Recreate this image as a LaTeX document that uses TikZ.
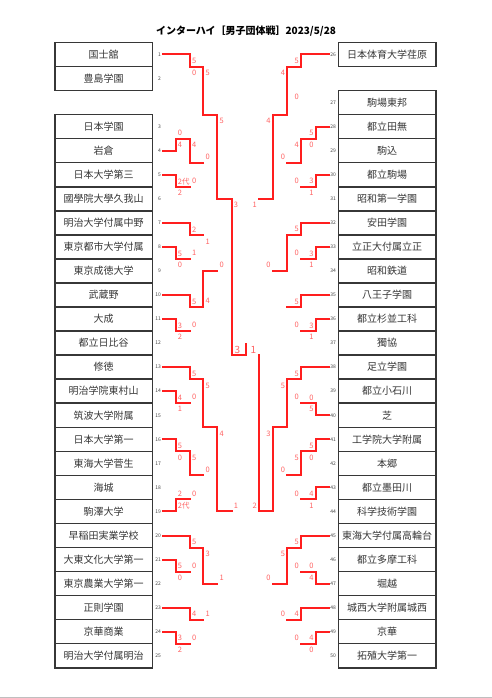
\documentclass[tikz,border=0pt]{standalone}
\usepackage{fontspec}
\setmainfont{Noto Sans CJK JP}
\pgfdeclarelayer{glay}
\pgfsetlayers{glay,main}
\definecolor{bred}{RGB}{255,30,30}
\definecolor{bgray}{RGB}{70,70,70}
\definecolor{lpink}{RGB}{255,100,100}
\definecolor{boxc}{RGB}{55,55,55}
\definecolor{txtc}{RGB}{55,55,55}
\tikzset{
 win/.style={draw=bred,line width=2pt,line cap=rect},
 lose/.style={draw=bgray,line width=1.5pt,line cap=rect},
 lab/.style={text=lpink,font=\fontsize{7.5}{7.5}\selectfont,inner sep=0pt},
 biglab/.style={text=lpink,font=\fontsize{10}{10}\selectfont,inner sep=0pt},
 team/.style={draw=boxc,line width=1.5pt,minimum width=97.5pt,minimum height=24.05pt,inner sep=0pt,text=txtc,font=\fontsize{10}{10}\selectfont},
 seedL/.style={anchor=east,inner sep=0pt,text=bgray,font=\fontsize{5}{5}\selectfont},
 seedR/.style={anchor=west,inner sep=0pt,text=bgray,font=\fontsize{5}{5}\selectfont},
}
% left match: xv, up, low, out, xout, winner(1 up / 2 low), label up, label low, name
\newcommand\LM[9]{%
 \begin{pgfonlayer}{glay}%
 \ifnum#6=1\relax \draw[lose] (#1,#4)--(#1,#3);\else \draw[lose] (#1,#2)--(#1,#4);\fi
 \end{pgfonlayer}%
 \ifnum#6=1\relax \draw[win] (#1,#2)--(#1,#4)--(#5,#4);\else \draw[win] (#1,#3)--(#1,#4)--(#5,#4);\fi
 \node[lab,anchor=west] (#9u) at (#1+2,#2+0.27) {#7};
 \node[lab,anchor=west] (#9l) at (#1+2,#3-0.25) {#8};
}
\newcommand\RM[9]{%
 \begin{pgfonlayer}{glay}%
 \ifnum#6=1\relax \draw[lose] (#1,#4)--(#1,#3);\else \draw[lose] (#1,#2)--(#1,#4);\fi
 \end{pgfonlayer}%
 \ifnum#6=1\relax \draw[win] (#1,#2)--(#1,#4)--(#5,#4);\else \draw[win] (#1,#3)--(#1,#4)--(#5,#4);\fi
 \node[lab,anchor=east] (#9u) at (#1-2,#2+0.27) {#7};
 \node[lab,anchor=east] (#9l) at (#1-2,#3-0.25) {#8};
}
\begin{document}
\begin{tikzpicture}[x=1pt,y=-1pt]
\useasboundingbox (0,0) rectangle (492,698);
\fill[white] (0,0) rectangle (492,698);
\node[font=\bfseries\fontsize{10}{10}\selectfont,text=black] (title) at (246,31.5) {インターハイ［男子団体戦］2023/5/28};
\draw[black!25,line width=1pt] (0,697.2)--(492,697.2);
\begin{scope}[yshift=-54.5pt,y=-24.05pt]
% teams left
\foreach \n/\s/\t in {1/0/国士舘,2/1/豊島学園,3/3/日本学園,4/4/岩倉,5/5/日本大学第三,6/6/國學院大學久我山,7/7/明治大学付属中野,8/8/東京都市大学付属,9/9/東京成徳大学,10/10/武蔵野,11/11/大成,12/12/都立日比谷,13/13/修徳,14/14/明治学院東村山,15/15/筑波大学附属,16/16/日本大学第一,17/17/東海大学菅生,18/18/海城,19/19/駒澤大学,20/20/早稲田実業学校,21/21/大東文化大学第一,22/22/東京農業大学第一,23/23/正則学園,24/24/京華商業,25/25/明治大学付属明治}{
 \node[team] (t\n) at (103.5,\s) {\t};
 \node[seedL] (n\n) at (161,\s) {\n};
}
% teams right
\foreach \n/\s/\t in {26/0/日本体育大学荏原,27/2/駒場東邦,28/3/都立田無,29/4/駒込,30/5/都立駒場,31/6/昭和第一学園,32/7/安田学園,33/8/立正大付属立正,34/9/昭和鉄道,35/10/八王子学園,36/11/都立杉並工科,37/12/獨協,38/13/足立学園,39/14/都立小石川,40/15/芝,41/16/工学院大学附属,42/17/本郷,43/18/都立墨田川,44/19/科学技術学園,45/20/東海大学付属高輪台,46/21/都立多摩工科,47/22/堀越,48/23/城西大学附属城西,49/24/京華,50/25/拓殖大学第一}{
 \node[team] (t\n) at (387.2,\s) {\t};
 \node[seedR] (n\n) at (330.2,\s) {\n};
}
% seed lines
\begin{pgfonlayer}{glay}
\foreach \u/\e in {1/190,3/175.7,6/175.7,9/175.7,12/175.7,15/175.7,17/175.7,18/175.7,22/175.7,25/175.7}
 \draw[lose] (162.7,\u)--(\e,\u);
\foreach \u/\e in {2/301,4/315.7,6/315.7,9/315.7,12/315.7,14/315.7,17/315.7,19/315.7,21/315.7,25/315.7}
 \draw[lose] (329.3,\u)--(\e,\u);
\end{pgfonlayer}
\foreach \u/\e in {0/190,4/175.7,5/175.7,7/190,8/175.7,10/190,11/175.7,13/190,14/175.7,16/175.7,19/175.7,20/190,21/175.7,23/190,24/175.7}
 \draw[win] (162.7,\u)--(\e,\u);
\foreach \u/\e in {0/301,3/315.7,5/315.7,7/301,8/315.7,10/301,11/315.7,13/301,15/315.7,16/315.7,18/315.7,20/301,22/315.7,23/301,24/315.7}
 \draw[win] (329.3,\u)--(\e,\u);
% left bracket
\LM{190}{0}{1}{0.5}{203.3}{1}{5}{0}{ma}
\LM{175.7}{3}{4}{3.5}{190}{2}{0}{4}{mb}
\LM{175.7}{5}{6}{5.5}{190}{1}{2代}{2}{mc}
\LM{190}{3.5}{5.5}{4.5}{203.3}{1}{4}{0}{md}
\LM{203.3}{0.5}{4.5}{2.5}{217.3}{1}{5}{0}{me}
\LM{175.7}{8}{9}{8.5}{190}{1}{5}{0}{mf}
\LM{190}{7}{8.5}{7.5}{203.3}{1}{2}{1}{mg}
\LM{175.7}{11}{12}{11.5}{190}{1}{3}{2}{mh}
\LM{190}{10}{11.5}{10.5}{203.3}{1}{5}{0}{mi}
\LM{203.3}{7.5}{10.5}{9}{217.3}{2}{1}{4}{mj}
\LM{217.3}{2.5}{9}{6}{231.7}{1}{5}{0}{mk}
\LM{175.7}{14}{15}{14.5}{190}{1}{4}{1}{ml}
\LM{190}{13}{14.5}{13.5}{203.3}{1}{5}{0}{mm}
\LM{175.7}{16}{17}{16.5}{190}{1}{5}{0}{mn}
\LM{175.7}{18}{19}{18.5}{190}{2}{2}{2代}{mo}
\LM{190}{16.5}{18.5}{17.5}{203.3}{1}{5}{0}{mp}
\LM{203.3}{13.5}{17.5}{15.5}{217.3}{1}{5}{0}{mq}
\LM{175.7}{21}{22}{21.5}{190}{1}{5}{0}{mr}
\LM{190}{20}{21.5}{20.5}{203.3}{1}{5}{0}{ms}
\LM{175.7}{24}{25}{24.5}{190}{1}{3}{2}{mt}
\LM{190}{23}{24.5}{23.5}{203.3}{1}{4}{0}{mu}
\LM{203.3}{20.5}{23.5}{22}{217.3}{1}{3}{1}{mv}
\LM{217.3}{15.5}{22}{19}{231.7}{1}{4}{1}{mw}
\LM{231.7}{6}{19}{12.5}{245.7}{1}{3}{1}{mx}
% right bracket
\RM{301}{0}{2}{0.5}{287.3}{1}{5}{0}{nA}
\RM{315.7}{3}{4}{3.5}{301}{1}{5}{0}{nB}
\RM{315.7}{5}{6}{5.5}{301}{1}{3}{1}{nC}
\RM{301}{3.5}{5.5}{4.5}{287.3}{1}{4}{0}{nD}
\RM{287.3}{0.5}{4.5}{2.5}{272.7}{1}{4}{0}{nE}
\RM{315.7}{8}{9}{8.5}{301}{1}{3}{1}{nF}
\RM{301}{7}{8.5}{7.5}{287.3}{1}{5}{0}{nG}
\RM{315.7}{11}{12}{11.5}{301}{1}{3}{1}{nH}
\RM{301}{10}{11.5}{10.5}{287.3}{1}{5}{0}{nI}
\RM{287.3}{7.5}{10.5}{9}{272.7}{1}{}{}{nJ}
\RM{272.7}{2.5}{9}{6}{259}{1}{4}{0}{nK}
\RM{315.7}{14}{15}{14.5}{301}{2}{0}{5}{nL}
\RM{301}{13}{14.5}{13.5}{287.3}{1}{5}{0}{nM}
\RM{315.7}{16}{17}{16.5}{301}{1}{5}{0}{nN}
\RM{315.7}{18}{19}{18.5}{301}{1}{4}{1}{nO}
\RM{301}{16.5}{18.5}{17.5}{287.3}{1}{5}{0}{nP}
\RM{287.3}{13.5}{17.5}{15.5}{272.7}{1}{5}{0}{nQ}
\RM{315.7}{21}{22}{21.5}{301}{2}{0}{4}{nR}
\RM{301}{20}{21.5}{20.5}{287.3}{1}{5}{0}{nS}
\RM{315.7}{24}{25}{24.5}{301}{1}{4}{0}{nT}
\RM{301}{23}{24.5}{23.5}{287.3}{1}{4}{0}{nU}
\RM{287.3}{20.5}{23.5}{22}{272.7}{1}{5}{0}{nV}
\RM{272.7}{15.5}{22}{19}{259}{1}{3}{0}{nW}
% right semifinal (lower wins) and final
\begin{pgfonlayer}{glay}
\draw[lose] (259,6)--(259,12.5)--(245.7,12.5);
\end{pgfonlayer}
\draw[win] (259,19)--(259,12.5);
\node[lab,anchor=east] (nXu) at (257,6.27) {1};
\node[lab,anchor=east] (nXl) at (257,18.75) {2};
\draw[win] (245.7,12.5)--(245.7,12.04);
\node[biglab] (f3) at (237.5,12.3) {3};
\node[biglab] (f1) at (253.5,12.3) {1};
\end{scope}
\end{tikzpicture}
\end{document}
